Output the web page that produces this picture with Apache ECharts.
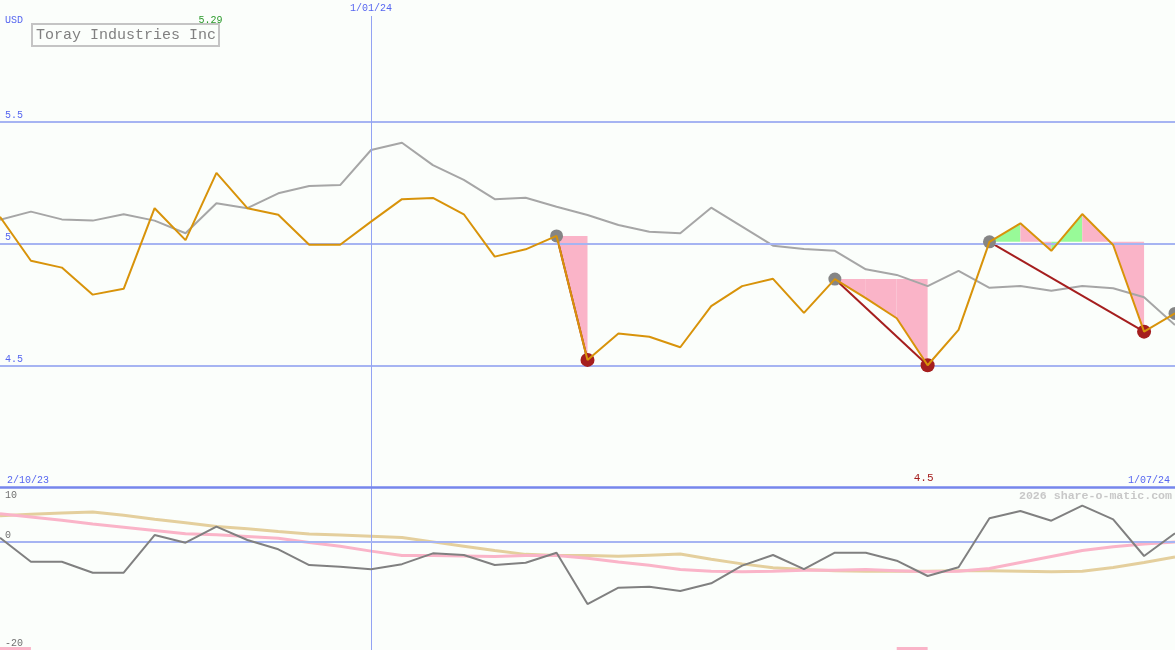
<!DOCTYPE html>
<html><head><meta charset="utf-8">
<script src="https://cdn.jsdelivr.net/npm/echarts@6/dist/echarts.min.js"></script>
<style>html,body{margin:0;padding:0;background:#fbfefb}#c{width:1175px;height:650px}</style>
</head><body><div id="c"></div>
<script>
// ---- data (weekly points, index 0..38) ----
const price = [5.110, 4.929, 4.901, 4.790, 4.814, 5.145, 5.014, 5.290, 5.145, 5.118,
               4.995, 4.995, 5.090, 5.182, 5.187, 5.120, 4.946, 4.976, 5.031, 4.522,
               4.630, 4.617, 4.574, 4.743, 4.825, 4.855, 4.715, 4.854, 4.776, 4.693,
               4.500, 4.645, 5.007, 5.083, 4.970, 5.121, 4.994, 4.638, 4.713];
const avg   = [5.097, 5.131, 5.099, 5.094, 5.120, 5.094, 5.042, 5.165, 5.145, 5.206,
               5.236, 5.240, 5.384, 5.414, 5.322, 5.261, 5.182, 5.188, 5.151, 5.117,
               5.076, 5.048, 5.042, 5.147, 5.069, 4.991, 4.977, 4.970, 4.894, 4.871,
               4.825, 4.888, 4.818, 4.825, 4.806, 4.825, 4.816, 4.779, 4.665];
const osc   = [0.67, -3.75, -3.75, -5.77, -5.77, 1.16, -0.25, 2.70, 0.25, -1.47,
               -4.36, -4.67, -5.15, -4.20, -2.21, -2.52, -4.36, -3.93, -2.09, -11.54,
               -8.53, -8.35, -9.14, -7.73, -4.48, -2.52, -5.10, -2.09, -2.09, -3.56,
               -6.38, -4.78, 4.24, 5.58, 3.80, 6.56, 4.05, -2.70, 1.48];
const oscSignal = [5.1, 4.5, 3.9, 3.2, 2.6, 2.0, 1.4, 1.2, 0.9, 0.55,
               -0.2, -0.9, -1.8, -2.6, -2.6, -2.7, -2.8, -2.6, -2.6, -3.1,
               -3.8, -4.4, -5.2, -5.5, -5.6, -5.5, -5.3, -5.3, -5.2, -5.4,
               -5.6, -5.5, -5.0, -3.9, -2.8, -1.7, -1.0, -0.5, -0.1];
const oscSlow = [4.7, 5.0, 5.2, 5.4, 4.8, 4.05, 3.4, 2.75, 2.3, 1.8,
               1.35, 1.15, 0.95, 0.7, -0.1, -0.9, -1.7, -2.4, -2.6, -2.6,
               -2.75, -2.55, -2.35, -3.3, -4.15, -4.85, -5.2, -5.4, -5.5, -5.5,
               -5.5, -5.4, -5.4, -5.5, -5.6, -5.5, -4.8, -3.9, -2.9];
const peakIdx   = [18, 27, 32, 38];
const troughIdx = [19, 30, 37];
const signalIdx = [0, 29];
const priceTicks = [4.5, 5, 5.5];
const oscTicks = [10, 0, -20];
const dateTickIdx = [12];
const dateTickLabels = ['1/01/24'];
const rangeLabels = ['2/10/23', '1/07/24'];
const currency = 'USD';
const companyName = 'Toray Industries Inc';
const watermark = '2026 share-o-matic.com';

// ---- derived ----
const N = price.length;
const pts = price.map((v, i) => [i, v]);
const fillData = [];
troughIdx.forEach((e, k) => {
  const s = peakIdx[k], base = price[s];
  for (let i = s; i < e; i++) fillData.push([i, base, price[i], price[i + 1]]);
});
const ddLines = troughIdx.map((e, k) => ({ coords: [[peakIdx[k], price[peakIdx[k]]], [e, price[e]]] }));
const maxV = Math.max(...price), minV = Math.min(...price);
const maxI = price.indexOf(maxV), minI = price.indexOf(minV);
const fmt = v => String(+v.toFixed(2));

const FONT = '"Liberation Mono","DejaVu Sans Mono",monospace';
const BLUE_TXT = '#5666f0', GRID = '#a6b4f2', SEP = '#7686ec', VLINE = '#93a3f3';
const PINK = '#fab4c8', GREEN = '#98fa98', DRED = '#a51e1e';
const CLEAR = 'rgba(0,0,0,0)';
const Y0MIN = 4, Y0MAX = 6;

const chart = echarts.init(document.getElementById('c'), null, { renderer: 'canvas' });
const none = ['none', 'none'];
const lbl = (text, pos, dist, color, size) => ({ show: true, position: pos, distance: dist, formatter: text,
  color: color, fontFamily: FONT, fontSize: size || 10 });
chart.setOption({
  animation: false,
  backgroundColor: '#fbfefb',
  title: [
    { text: companyName, left: 32, top: 24, padding: [4, 3, 3, 4], borderColor: '#c4c4c4', borderWidth: 2,
      textStyle: { fontFamily: FONT, fontSize: 15, fontWeight: 'normal', color: '#808080' } },
    { text: currency, left: 5, top: 15, padding: 0,
      textStyle: { fontFamily: FONT, fontSize: 10, fontWeight: 'normal', color: BLUE_TXT } },
    { text: watermark, right: 3, top: 490, padding: 0,
      textStyle: { fontFamily: FONT, fontSize: 11.6, fontWeight: 'bold', color: '#c8c8c8' } }
  ],
  grid: [
    { left: 0, right: 0, top: 0, height: 487 },
    { left: 0, right: 0, top: 487, bottom: 0 }
  ],
  xAxis: [
    { type: 'value', gridIndex: 0, min: 0, max: N - 1, show: false },
    { type: 'value', gridIndex: 1, min: 0, max: N - 1, show: false }
  ],
  yAxis: [
    { type: 'value', gridIndex: 0, min: Y0MIN, max: Y0MAX, show: false },
    { type: 'value', gridIndex: 1, min: -20, max: 10, show: false }
  ],
  series: [
    { // upper grid lines
      type: 'line', xAxisIndex: 0, yAxisIndex: 0, data: [], z: 1, silent: true,
      markLine: {
        silent: true, symbol: none, animation: false,
        data: priceTicks.map(t => ({
          yAxis: t,
          lineStyle: { color: GRID, width: 2, type: 'solid' },
          label: lbl(String(t), 'insideStartTop', [5, 1], BLUE_TXT)
        })).concat(dateTickIdx.map((d, k) => [
          { coord: [d, Y0MAX - 16 / 243.5], lineStyle: { color: VLINE, width: 1, type: 'solid' },
            label: lbl(dateTickLabels[k], 'start', 3, BLUE_TXT) },
          { coord: [d, Y0MIN] }
        ]))
      }
    },
    { // lower grid lines
      type: 'line', xAxisIndex: 1, yAxisIndex: 1, data: [], z: 1, silent: true,
      markLine: {
        silent: true, symbol: none, animation: false,
        data: [
          { xAxis: dateTickIdx[0], lineStyle: { color: VLINE, width: 1, type: 'solid' }, label: { show: false } },
          { yAxis: oscTicks[1], lineStyle: { color: GRID, width: 2, type: 'solid' },
            label: lbl(String(oscTicks[1]), 'insideStartTop', [5, 1], '#707070') },
          { yAxis: oscTicks[2], lineStyle: { color: CLEAR, width: 1 },
            label: lbl(String(oscTicks[2]), 'insideStartTop', [5, 2], '#707070') },
          { yAxis: oscTicks[0], lineStyle: { color: CLEAR, width: 1 },
            label: lbl(String(oscTicks[0]), 'insideStartBottom', [5, 3], '#707070') },
          { yAxis: oscTicks[0], lineStyle: { color: SEP, width: 2.5, type: 'solid' },
            label: lbl(rangeLabels[0], 'insideStartTop', [7, 2], BLUE_TXT) },
          { yAxis: oscTicks[0], lineStyle: { color: CLEAR, width: 1 },
            label: lbl(rangeLabels[1], 'insideEndTop', [5, 2], BLUE_TXT) }
        ]
      },
      markArea: {
        silent: true,
        itemStyle: { color: PINK },
        data: signalIdx.map(i => [{ coord: [i, -20] }, { coord: [i + 1, -19.45] }])
      }
    },
    { // drawdown / run-up fills
      type: 'custom', xAxisIndex: 0, yAxisIndex: 0, z: 2, silent: true,
      data: fillData, encode: { x: 0, y: [1, 2, 3] },
      renderItem: function (params, api) {
        const i = api.value(0), base = api.value(1), a = api.value(2), b = api.value(3);
        const p0 = api.coord([i, base]), p1 = api.coord([i, a]), p2 = api.coord([i + 1, b]), p3 = api.coord([i + 1, base]);
        return { type: 'polygon', shape: { points: [p0, p1, p2, p3] }, style: { fill: b >= a ? GREEN : PINK } };
      }
    },
    { type: 'line', xAxisIndex: 0, yAxisIndex: 0, z: 3, data: avg.map((v, i) => [i, v]),
      showSymbol: false, lineStyle: { color: '#a6a6a6', width: 2 } },
    { type: 'lines', coordinateSystem: 'cartesian2d', xAxisIndex: 0, yAxisIndex: 0, z: 4,
      data: ddLines, lineStyle: { color: DRED, width: 2, opacity: 1 } },
    { type: 'scatter', xAxisIndex: 0, yAxisIndex: 0, z: 5, symbolSize: 13,
      data: peakIdx.map(i => [i, price[i]]), itemStyle: { color: '#858585', opacity: 1 } },
    { type: 'scatter', xAxisIndex: 0, yAxisIndex: 0, z: 5, symbolSize: 14,
      data: troughIdx.map(i => [i, price[i]]), itemStyle: { color: DRED, opacity: 1 } },
    { type: 'line', xAxisIndex: 0, yAxisIndex: 0, z: 6, data: pts,
      showSymbol: false, lineStyle: { color: '#d8930a', width: 2 },
      markPoint: {
        silent: true, symbol: 'circle', symbolSize: 0, animation: false,
        data: [
          { coord: [maxI, Y0MAX - 20 / 243.5], label: { show: true, position: 'inside', offset: [-6, 0],
            formatter: fmt(maxV), color: '#2a9a2a', fontFamily: FONT, fontSize: 10 } },
          { coord: [minI, Y0MIN], label: { show: true, position: 'top', distance: 3, offset: [-4, 0],
            formatter: fmt(minV), color: DRED, fontFamily: FONT, fontSize: 11 } }
        ]
      }
    },
    { type: 'line', xAxisIndex: 1, yAxisIndex: 1, z: 3, data: oscSlow.map((v, i) => [i, v]),
      showSymbol: false, lineStyle: { color: '#e4cf9d', width: 3 } },
    { type: 'line', xAxisIndex: 1, yAxisIndex: 1, z: 4, data: oscSignal.map((v, i) => [i, v]),
      showSymbol: false, lineStyle: { color: PINK, width: 3 } },
    { type: 'line', xAxisIndex: 1, yAxisIndex: 1, z: 5, data: osc.map((v, i) => [i, v]),
      showSymbol: false, lineStyle: { color: '#808080', width: 2 } }
  ]
});
</script></body></html>
